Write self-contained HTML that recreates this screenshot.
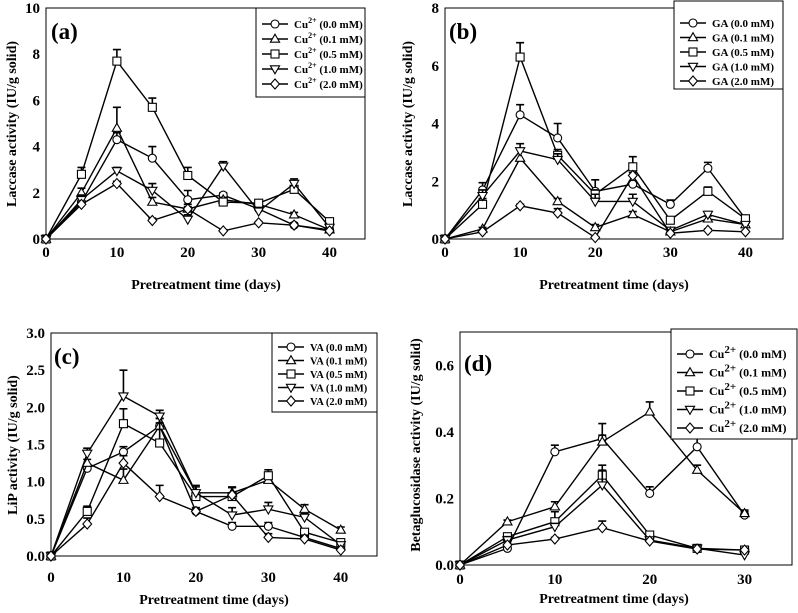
<!DOCTYPE html>
<html><head><meta charset="utf-8">
<style>
html,body{margin:0;padding:0;background:#fff;}
svg{display:block;font-family:"Liberation Serif","Times New Roman",serif;font-weight:bold;}
</style></head>
<body>
<svg id="chart" width="798" height="613" viewBox="0 0 798 613"></svg>
<script>
const xDays = [0,5,10,15,20,25,30,35,40];
const xDaysD = [0,5,10,15,20,25,30];
const concLabels = ["0.0 mM","0.1 mM","0.5 mM","1.0 mM","2.0 mM"];
const markerTypes = ["circle","triangle","square","down","diamond"];

const aC0 = [0,1.6,4.3,3.5,1.7,1.9,1.3,0.6,0.4];
const aC1 = [0,2.0,4.8,1.6,1.3,1.7,1.5,1.05,0.4];
const aC2 = [0,2.8,7.7,5.7,2.75,1.6,1.55,2.15,0.75];
const aC3 = [0,1.7,2.95,2.1,0.85,3.15,1.2,2.4,0.5];
const aC4 = [0,1.5,2.4,0.8,1.3,0.35,0.7,0.6,0.35];
const aE0 = [0,0.2,0.3,0.5,0.4,0.1,0.1,0.1,0.1];
const aE1 = [0,0.2,0.9,0.2,0.2,0.1,0.1,0.1,0.1];
const aE2 = [0,0.3,0.5,0.4,0.35,0.1,0.1,0.3,0.1];
const aE3 = [0,0.2,0.15,0.3,0.2,0.2,0.1,0.2,0.1];
const aE4 = [0,0.1,0.1,0.1,0.1,0.05,0.05,0.05,0.05];

const bC0 = [0,1.7,4.3,3.5,1.65,1.9,1.2,2.45,0.7];
const bC1 = [0,0.35,2.8,1.3,0.4,0.85,0.25,0.7,0.5];
const bC2 = [0,1.2,6.3,2.9,1.55,2.5,0.65,1.65,0.7];
const bC3 = [0,1.5,3.05,2.75,1.3,1.3,0.3,0.85,0.5];
const bC4 = [0,0.25,1.15,0.9,0.05,2.2,0.2,0.3,0.25];
const bE0 = [0,0.25,0.35,0.5,0.4,0.1,0.15,0.2,0.1];
const bE1 = [0,0.05,0.3,0.1,0.1,0.1,0.05,0.1,0.05];
const bE2 = [0,0.2,0.5,0.2,0.15,0.35,0.1,0.15,0.1];
const bE3 = [0,0.2,0.25,0.2,0.25,0.25,0.05,0.1,0.05];
const bE4 = [0,0.05,0.05,0.15,0.02,0.1,0.05,0.05,0.05];

const cC0 = [0,1.18,1.4,1.75,0.6,0.4,0.4,0.25,0.1];
const cC1 = [0,1.25,1.02,1.75,0.85,0.85,1.02,0.63,0.35];
const cC2 = [0,0.6,1.78,1.52,0.8,0.8,1.08,0.32,0.18];
const cC3 = [0,1.38,2.15,1.88,0.85,0.55,0.63,0.52,0.15];
const cC4 = [0,0.43,1.25,0.8,0.6,0.82,0.25,0.23,0.08];
const cE0 = [0,0.05,0.07,0.1,0.05,0.05,0.05,0.03,0.02];
const cE1 = [0,0.05,0.15,0.1,0.08,0.08,0.05,0.06,0.04];
const cE2 = [0,0.07,0.2,0.27,0.05,0.12,0.08,0.03,0.02];
const cE3 = [0,0.07,0.35,0.08,0.1,0.1,0.09,0.05,0.03];
const cE4 = [0,0.08,0.1,0.15,0.05,0.1,0.05,0.05,0.02];

const dC0 = [0,0.05,0.34,0.38,0.215,0.355,0.15];
const dC1 = [0,0.13,0.175,0.37,0.46,0.285,0.155];
const dC2 = [0,0.085,0.13,0.27,0.09,0.05,0.045];
const dC3 = [0,0.075,0.115,0.24,0.075,0.05,0.03];
const dC4 = [0,0.06,0.078,0.112,0.072,0.048,0.045];
const dE0 = [0,0.005,0.02,0.045,0.02,0.04,0.01];
const dE1 = [0,0.005,0.015,0.02,0.03,0.015,0.01];
const dE2 = [0,0.01,0.03,0.03,0.005,0.005,0.005];
const dE3 = [0,0.01,0.01,0.045,0.005,0.005,0.005];
const dE4 = [0,0.005,0.005,0.02,0.005,0.005,0.005];

const yTicksA = [0,2,4,6,8,10];
const yTicksB = [0,2,4,6,8];
const yTicksC = ["0.0","0.5","1.0","1.5","2.0","2.5","3.0"];
const yTicksD = ["0.0","0.2","0.4","0.6"];
const xTicks = [0,10,20,30,40];
const xTicksD = [0,10,20,30];

const NS = "http://www.w3.org/2000/svg";
const svg = document.getElementById("chart");
function el(tag, attrs, parent, text){
  const e = document.createElementNS(NS, tag);
  for (const k in attrs) e.setAttribute(k, attrs[k]);
  if (text !== undefined) e.textContent = text;
  (parent||svg).appendChild(e);
  return e;
}
function marker(g, type, cx, cy, r){
  let m;
  if (type==="circle") m = el("circle",{cx:cx,cy:cy,r:r,fill:"#fff",stroke:"#000","stroke-width":1.1},g);
  else if (type==="square") m = el("rect",{x:cx-r,y:cy-r,width:2*r,height:2*r,fill:"#fff",stroke:"#000","stroke-width":1.1},g);
  else if (type==="triangle") m = el("polygon",{points:`${cx},${cy-r*1.2} ${cx-r*1.15},${cy+r*0.8} ${cx+r*1.15},${cy+r*0.8}`,fill:"#fff",stroke:"#000","stroke-width":1.1},g);
  else if (type==="down") m = el("polygon",{points:`${cx},${cy+r*1.2} ${cx-r*1.15},${cy-r*0.8} ${cx+r*1.15},${cy-r*0.8}`,fill:"#fff",stroke:"#000","stroke-width":1.1},g);
  else m = el("polygon",{points:`${cx},${cy-r*1.25} ${cx+r*1.1},${cy} ${cx},${cy+r*1.25} ${cx-r*1.1},${cy}`,fill:"#fff",stroke:"#000","stroke-width":1.1},g);
  
  
  return m;
}

function panel(cfg){
  const g = el("g",{});
  
  
  const L=cfg.L,R=cfg.R,T=cfg.T,B=cfg.B;
  const sx = v => L + (v-cfg.xmin)/(cfg.xmax-cfg.xmin)*(R-L);
  const sy = v => B - (v-cfg.ymin)/(cfg.ymax-cfg.ymin)*(B-T);
  const frame = el("rect",{x:L,y:T,width:R-L,height:B-T,fill:"none",stroke:"#000","stroke-width":1},g);
  
  
  cfg.yticks.forEach(t=>{
    const v = parseFloat(t);
    const tl = el("text",{x:L-6,y:sy(v)+5,"text-anchor":"end","font-size":15},g,String(t));
    
    
  });
  cfg.xticks.forEach(t=>{
    const tl = el("text",{x:sx(t),y:cfg.xlabY,"text-anchor":"middle","font-size":15},g,String(t));
    
    
  });
  const xt = el("text",{x:cfg.xTitleX,y:cfg.xTitleY,"text-anchor":"middle","font-size":14},g,"Pretreatment time (days)");
  
  
  const yt = el("text",{x:0,y:0,"text-anchor":"middle","font-size":cfg.yTitleSize||14,transform:`translate(${cfg.yTitleX},${cfg.yTitleY}) rotate(-90)`},g,cfg.yTitle);
  
  
  const pl = el("text",{x:cfg.labX,y:cfg.labY,"font-size":23},g,"("+cfg.id+")");
  
  

  cfg.series.forEach((s,i)=>{
    const sg = el("g",{},g);
    
    
    const pts = s.map((v,j)=>sx(cfg.x[j])+","+sy(v)).join(" ");
    const ln = el("polyline",{points:pts,fill:"none",stroke:"#000","stroke-width":1.4},sg);
    
    
    s.forEach((v,j)=>{
      const e = cfg.err[i][j];
      if (e>0){
        const x=sx(cfg.x[j]), y1=sy(v), y2=sy(v+e);
        const eb = el("path",{d:`M${x},${y1}V${y2}M${x-4},${y2}H${x+4}`,stroke:"#000","stroke-width":1.6,fill:"none"},sg);
        
        
      }
    });
    s.forEach((v,j)=>marker(sg,markerTypes[i],sx(cfg.x[j]),sy(v),4));
  });

  const lg = el("g",{},g);
  
  
  const lb = el("rect",{x:cfg.lgX,y:cfg.lgY,width:cfg.lgW,height:cfg.lgH,fill:"#fff",stroke:"#000","stroke-width":1},lg);
  
  
  concLabels.forEach((c,i)=>{
    const y = cfg.lgY + cfg.lgFirst + i*cfg.lgStep;
    const x0 = cfg.lgX+6;
    const ent = el("g",{},lg);
    
    
    el("line",{x1:x0,y1:y,x2:x0+26,y2:y,stroke:"#000","stroke-width":1.4},ent);
    marker(ent,markerTypes[i],x0+13,y,4);
    const t = el("text",{x:x0+32,y:y+4,"font-size":cfg.lgFont},ent);
    if (cfg.prefix==="Cu"){
      el("tspan",{},t,"Cu");
      el("tspan",{"font-size":cfg.supFont,dy:-5},t,"2+");
      el("tspan",{dy:5},t," ("+c+")");
    } else {
      t.textContent = cfg.prefix+" ("+c+")";
    }
  });
}

const base = {xmin:0,ymin:0};
panel({...base,id:"a",L:46,R:365,T:8,B:239,xmax:45,ymax:10,x:xDays,
  series:[aC0,aC1,aC2,aC3,aC4],err:[aE0,aE1,aE2,aE3,aE4],
  yticks:yTicksA,xticks:xTicks,xlabY:257,xTitleX:206,xTitleY:289,
  yTitle:"Laccase activity (IU/g solid)",yTitleX:16,yTitleY:124,labX:51,labY:39,
  lgX:256,lgY:8,lgW:109,lgH:89,lgFirst:16,lgStep:15,lgFont:11,supFont:8,prefix:"Cu"});
panel({...base,id:"b",L:445,R:783,T:8,B:239,xmax:45,ymax:8,x:xDays,
  series:[bC0,bC1,bC2,bC3,bC4],err:[bE0,bE1,bE2,bE3,bE4],
  yticks:yTicksB,xticks:xTicks,xlabY:257,xTitleX:614,xTitleY:289,
  yTitle:"Laccase activity (IU/g solid)",yTitleX:412,yTitleY:124,labX:449,labY:39,
  lgX:674,lgY:1,lgW:109,lgH:88,lgFirst:22,lgStep:14.5,lgFont:11,supFont:8,prefix:"GA"});
panel({...base,id:"c",L:51,R:377,T:333,B:556,xmax:45,ymax:3,x:xDays,
  series:[cC0,cC1,cC2,cC3,cC4],err:[cE0,cE1,cE2,cE3,cE4],
  yticks:yTicksC,xticks:xTicks,xlabY:582,xTitleX:214,xTitleY:604,
  yTitle:"LiP activity (IU/g solid)",yTitleX:17,yTitleY:445,labX:54,labY:364,
  lgX:272,lgY:333,lgW:105,lgH:79,lgFirst:14,lgStep:13.5,lgFont:10.5,supFont:8,prefix:"VA"});
panel({...base,id:"d",L:460,R:792,T:332,B:565,xmax:35,ymax:0.7,x:xDaysD,
  series:[dC0,dC1,dC2,dC3,dC4],err:[dE0,dE1,dE2,dE3,dE4],
  yticks:yTicksD,xticks:xTicksD,xlabY:584,xTitleX:614,xTitleY:603,
  yTitle:"Betaglucosidase activity (IU/g solid)",yTitleX:420,yTitleY:445,labX:464,labY:371,
  lgX:671,lgY:329,lgW:126,lgH:110,lgFirst:25,lgStep:18.5,lgFont:12,supFont:11,prefix:"Cu"});
</script>
</body></html>
